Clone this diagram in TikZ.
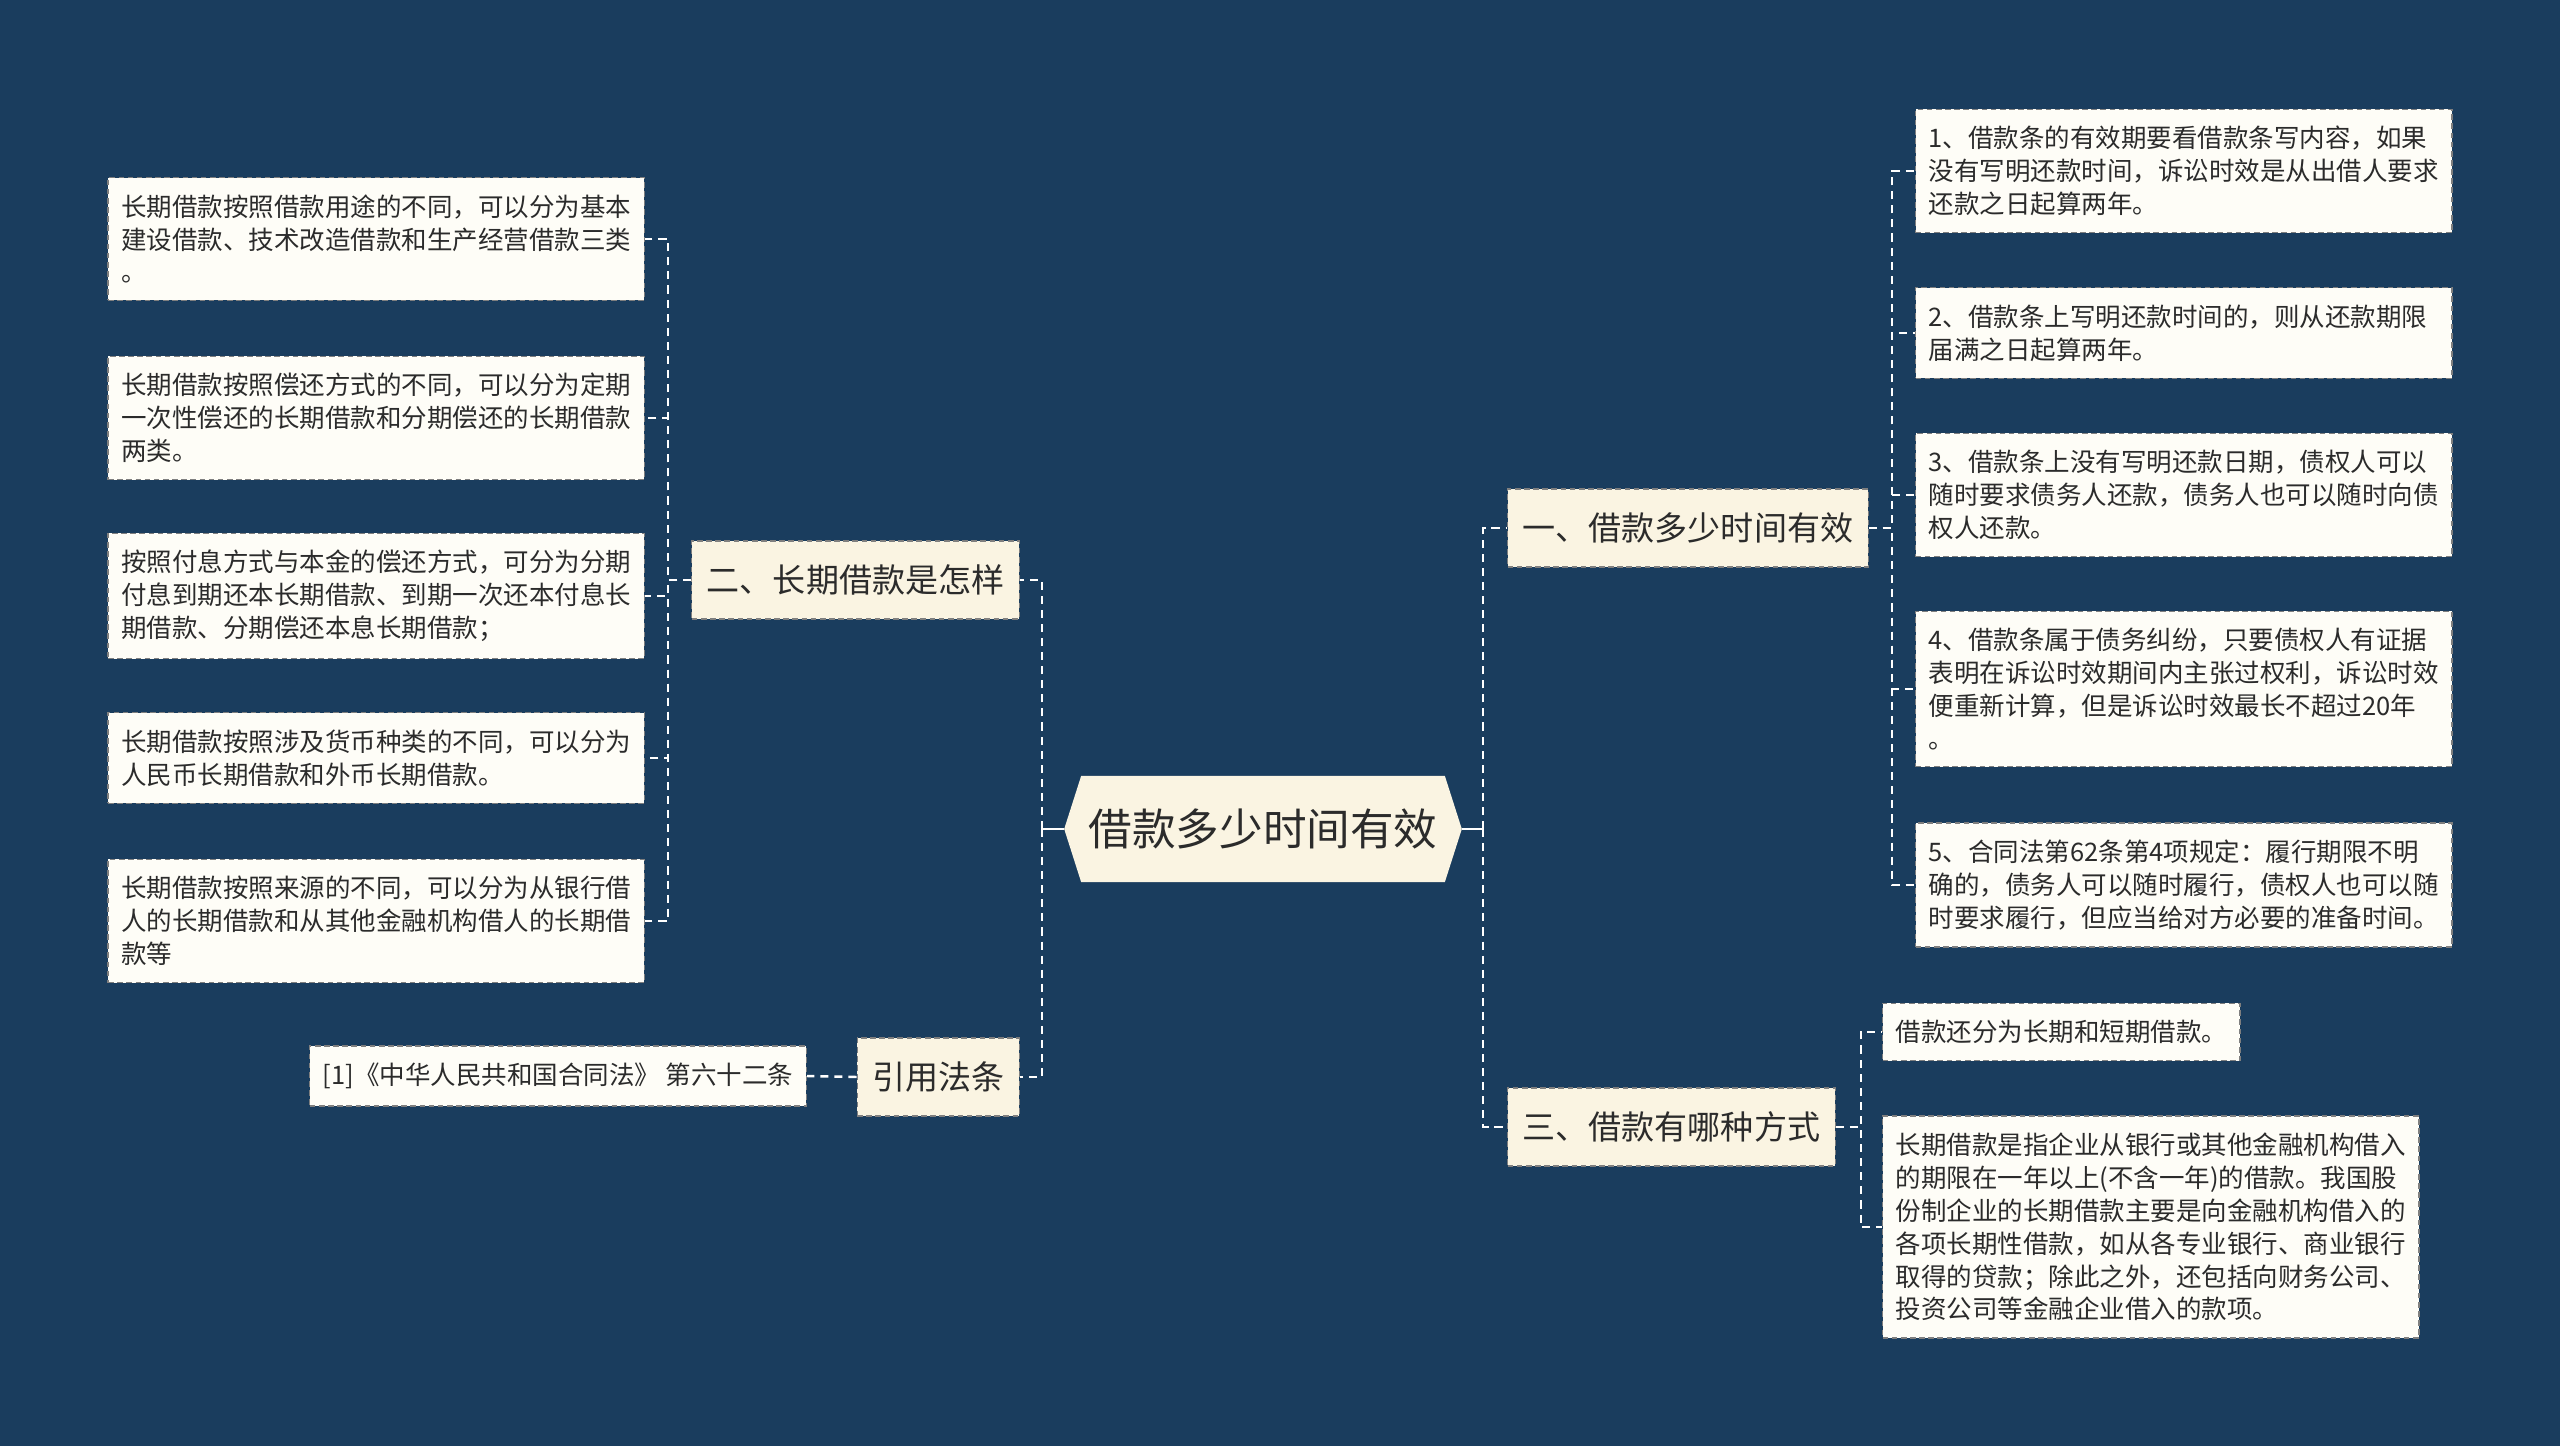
\documentclass[tikz,border=0pt]{standalone}
\usepackage{fontspec}
\setmainfont{Noto Sans CJK SC}
\usetikzlibrary{positioning, calc, backgrounds}

\definecolor{navy}{HTML}{1A3D5E}
\definecolor{cream}{HTML}{FAF4E2}
\definecolor{paper}{HTML}{FEFDF7}
\definecolor{edge}{HTML}{7F7F7F}
\definecolor{ink}{HTML}{2B2B2B}

\begin{document}
\begin{tikzpicture}[
    x=0.01cm, y=-0.01cm,
    rootbox/.style={rectangle, minimum width=3.62cm, minimum height=1.05cm, inner sep=0pt, text=ink, font=\fontsize{12.4}{14}\selectfont},
    branch/.style={rectangle, draw=edge, dash pattern=on 1.6pt off 1pt, line width=0.35pt, fill=cream, minimum height=0.78cm, inner xsep=0.15cm, text=ink, font=\fontsize{9.4}{11}\selectfont},
    leaf/.style={rectangle, draw=edge, dash pattern=on 1.6pt off 1pt, line width=0.35pt, fill=paper, inner xsep=0.13cm, inner ysep=0.17cm, align=left, text=ink, font=\fontsize{7.25}{9.35}\selectfont},
    wide/.style={leaf, text width=5.1cm},
    link/.style={draw=white, line width=0.7pt, dash pattern=on 2.3pt off 1.7pt},
    stub/.style={draw=white, line width=0.7pt}
]

% Centre
\node (root) [rootbox] at (1263,829) {借款多少时间有效};
\coordinate (rj) at (1483,829);
\coordinate (lj) at (1042,829);

% Branches
\node (b1) [branch, anchor=west] at (1507,528) {一、借款多少时间有效};
\node (b3) [branch, anchor=west] at (1507,1127) {三、借款有哪种方式};
\node (b2) [branch, anchor=east] at (1020,580) {二、长期借款是怎样};
\node (law) [branch, anchor=east] at (1020,1077) {引用法条};

% Leaves of b2
\node (l1) [wide, anchor=east] at (645,239) {长期借款按照借款用途的不同，可以分为基本\\建设借款、技术改造借款和生产经营借款三类\\。};
\node (l2) [wide, anchor=east] at (645,418) {长期借款按照偿还方式的不同，可以分为定期\\一次性偿还的长期借款和分期偿还的长期借款\\两类。};
\node (l3) [wide, anchor=east] at (645,596) {按照付息方式与本金的偿还方式，可分为分期\\付息到期还本长期借款、到期一次还本付息长\\期借款、分期偿还本息长期借款；};
\node (l4) [wide, anchor=east] at (645,758) {长期借款按照涉及货币种类的不同，可以分为\\人民币长期借款和外币长期借款。};
\node (l5) [wide, anchor=east] at (645,921) {长期借款按照来源的不同，可以分为从银行借\\人的长期借款和从其他金融机构借人的长期借\\款等};

% Leaves of b1
\node (r1) [wide, anchor=west] at (1915,171) {1、借款条的有效期要看借款条写内容，如果\\没有写明还款时间，诉讼时效是从出借人要求\\还款之日起算两年。};
\node (r2) [wide, anchor=west] at (1915,333) {2、借款条上写明还款时间的，则从还款期限\\届满之日起算两年。};
\node (r3) [wide, anchor=west] at (1915,495) {3、借款条上没有写明还款日期，债权人可以\\随时要求债务人还款，债务人也可以随时向债\\权人还款。};
\node (r4) [wide, anchor=west] at (1915,689) {4、借款条属于债务纠纷，只要债权人有证据\\表明在诉讼时效期间内主张过权利，诉讼时效\\便重新计算，但是诉讼时效最长不超过20年\\。};
\node (r5) [wide, anchor=west] at (1915,885) {5、合同法第62条第4项规定：履行期限不明\\确的，债务人可以随时履行，债权人也可以随\\时要求履行，但应当给对方必要的准备时间。};

% Leaves of b3
\node (s1) [leaf, anchor=west] at (1882,1032) {借款还分为长期和短期借款。};
\node (s2) [wide, anchor=west] at (1882,1227) {长期借款是指企业从银行或其他金融机构借入\\的期限在一年以上(不含一年)的借款。我国股\\份制企业的长期借款主要是向金融机构借入的\\各项长期性借款，如从各专业银行、商业银行\\取得的贷款；除此之外，还包括向财务公司、\\投资公司等金融企业借入的款项。};

% Leaf of law
\node (cite) [leaf, anchor=east] at (807,1076) {[1]《中华人民共和国合同法》 第六十二条};

% Background and centre shape
\begin{scope}[on background layer]
\fill[navy] (0,0) rectangle (2560,1446);
\fill[cream] (root.north west) -- (root.north east) -- ($(root.east)+(17,0)$) -- (root.south east)
    -- (root.south west) -- ($(root.west)+(-17,0)$) -- cycle;
\end{scope}

% Connectors
\draw [stub] ($(root.east)+(17,0)$) -- (rj);
\draw [stub] ($(root.west)+(-17,0)$) -- (lj);
\draw [link] (rj) |- (b1.west);
\draw [link] (rj) |- (b3.west);
\draw [link] (lj) |- (b2.east);
\draw [link] (lj) |- (law.east);

\draw [link] (b2.west) -- ++(-23,0) |- (l1.east);
\draw [link] (b2.west) -- ++(-23,0) |- (l2.east);
\draw [link] (b2.west) -- ++(-23,0) |- (l3.east);
\draw [link] (b2.west) -- ++(-23,0) |- (l4.east);
\draw [link] (b2.west) -- ++(-23,0) |- (l5.east);

\draw [link] (b1.east) -- ++(23,0) |- (r1.west);
\draw [link] (b1.east) -- ++(23,0) |- (r2.west);
\draw [link] (b1.east) -- ++(23,0) |- (r3.west);
\draw [link] (b1.east) -- ++(23,0) |- (r4.west);
\draw [link] (b1.east) -- ++(23,0) |- (r5.west);

\draw [link] (b3.east) -- ++(25,0) |- (s1.west);
\draw [link] (b3.east) -- ++(25,0) |- (s2.west);

\draw [link] (law.west) -- (cite.east);

\end{tikzpicture}
\end{document}
